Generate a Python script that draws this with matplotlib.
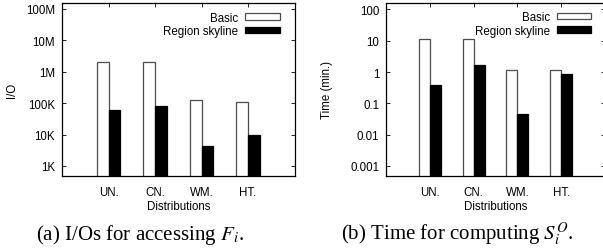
import numpy as np
import matplotlib
matplotlib.use('Agg')
import matplotlib.pyplot as plt
from matplotlib.ticker import FixedLocator, NullLocator

plt.rcParams['font.family'] = 'Liberation Sans'
plt.rcParams['mathtext.fontset'] = 'stix'

cats = ['UN.', 'CN.', 'WM.', 'HT.']

io_basic = [2.0e6, 2.1e6, 1.28e5, 1.08e5]
io_region = [6.1e4, 8.2e4, 4.4e3, 1.0e4]
io_ticks = [1e3, 1e4, 1e5, 1e6, 1e7, 1e8]
io_labels = ['1K', '10K', '100K', '1M', '10M', '100M']

t_basic = [11.3, 11.3, 1.19, 1.19]
t_region = [0.39, 1.67, 0.047, 0.88]
t_ticks = [1e-3, 1e-2, 1e-1, 1, 10, 100]
t_labels = ['0.001', '0.01', '0.1', '1', '10', '100']

W, H = 603, 253
fig = plt.figure(figsize=(W/100, H/100), dpi=100)

def px(x0, y0, x1, y1):
    return [x0/W, 1 - y1/H, (x1-x0)/W, (y1-y0)/H]

ax1 = fig.add_axes(px(62, 4, 294.5, 177))
ax2 = fig.add_axes(px(386, 3.5, 605, 177))

GR = (0.3, 0.3, 0.3)
FS = 8.3

def draw(ax, basic, region, ticks, labels, ylim, ylabel, ylpad):
    x = np.arange(1, len(cats)+1)
    ax.bar(x - 0.125, basic, 0.25, color='white', edgecolor=GR, lw=0.9, label='Basic')
    ax.bar(x + 0.125, region, 0.25, color='black', edgecolor='black', lw=0.9, label='Region skyline')
    ax.set_yscale('log')
    ax.set_ylim(*ylim)
    ax.set_xlim(0, 5)
    ax.yaxis.set_major_locator(FixedLocator(ticks))
    ax.set_yticklabels(labels)
    ax.yaxis.set_minor_locator(NullLocator())
    ax.set_xticks(x)
    ax.set_xticklabels(cats)
    ax.tick_params(direction='in', length=3, width=0.6, labelsize=FS,
                   top=True, right=True, pad=5, colors='black')
    ax.tick_params(axis='x', pad=7)
    for s in ax.spines.values():
        s.set_linewidth(0.9)
    ax.set_xlabel('Distributions', fontsize=FS, labelpad=2)
    ax.set_ylabel(ylabel, fontsize=FS, labelpad=ylpad)
    ax.legend(loc='upper right', frameon=False, fontsize=FS, markerfirst=False,
              handlelength=3.0, handleheight=0.45, handletextpad=0.6,
              labelspacing=0.12, borderaxespad=0, borderpad=0,
              bbox_to_anchor=(0.937, 0.95))

draw(ax1, io_basic, io_region, io_ticks, io_labels, (10**2.68, 10**8.19), 'I/O', 6)
draw(ax2, t_basic, t_region, t_ticks, t_labels, (10**-3.32, 10**2.22), 'Time (min.)', 12.5)

fig.text(140/W, 1 - 240/H, r'(a) I/Os for accessing $F_i$.', family='Liberation Serif',
         fontsize=15, ha='center', va='baseline')
fig.text(457/W, 1 - 240/H, r'(b) Time for computing $S_i^O$.', family='Liberation Serif',
         fontsize=15, ha='center', va='baseline')

fig.savefig('out.png', dpi=100)
